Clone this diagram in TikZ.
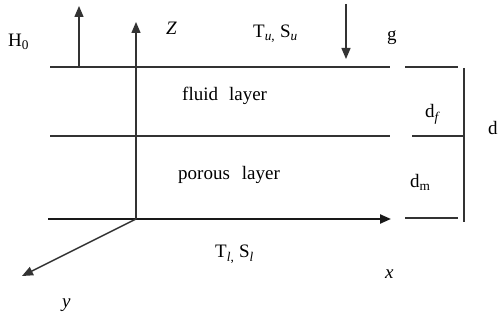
\documentclass[tikz,border=0pt]{standalone}
\usepackage{fontspec}
\setmainfont{Liberation Serif}
\usetikzlibrary{arrows.meta}
\begin{document}
\begin{tikzpicture}[x=1pt,y=-1pt,
  ln/.style={line width=1.4pt, draw=black!80},
  axis/.style={line width=2.2pt, draw=black!90},
  arr/.style={-{Triangle[length=11pt,width=9pt]}},
  lbl/.style={inner sep=0pt, anchor=base west, font=\fontsize{19}{22}\selectfont}]
\useasboundingbox (0,0) rectangle (499,320);
% coordinates
\coordinate (t1) at (50,67); \coordinate (t2) at (390,67);
\coordinate (m1) at (50,136); \coordinate (m2) at (390,136);
\coordinate (o) at (136,219); \coordinate (b1) at (48,219); \coordinate (xt) at (391,219);
\coordinate (zt) at (136,22);
\coordinate (h1) at (79,67); \coordinate (ht) at (79,6);
\coordinate (g1) at (346,4); \coordinate (gt) at (346,59);
\coordinate (yt) at (22,276);
\coordinate (r1a) at (405,67); \coordinate (r1b) at (458,67);
\coordinate (r2a) at (412,136); \coordinate (r2b) at (464,136);
\coordinate (r3a) at (405,218); \coordinate (r3b) at (458,218);
\coordinate (va) at (464,68); \coordinate (vb) at (464,222);
% lines
\draw[ln] (t1) -- (t2);
\draw[ln] (m1) -- (m2);
\draw[axis,arr] (b1) -- (xt);
\draw[ln,arr] (o) -- (zt);
\draw[ln,arr] (h1) -- (ht);
\draw[ln,arr] (g1) -- (gt);
\draw[ln,arr] (o) -- (yt);
\draw[ln] (r1a) -- (r1b);
\draw[ln] (r2a) -- (r2b);
\draw[ln] (r3a) -- (r3b);
\draw[ln] (va) -- (vb);
% labels
\node[lbl] (H0) at (8,47) {H\textsubscript{0}};
\node[lbl] (Z) at (166,35) {\textit{Z}};
\node[lbl] (Tu) at (253,38) {T\textsubscript{\textit{u},} S\textsubscript{\textit{u}}};
\node[lbl] (g) at (387,41) {g};
\node[lbl] (fl) at (182,101) {fluid\hspace{11pt}layer};
\node[lbl] (pl) at (178,180) {porous\hspace{12pt}layer};
\node[lbl] (df) at (425,118) {d\textsubscript{\textit{f}}};
\node[lbl] (d) at (488,135) {d};
\node[lbl] (dm) at (410,188) {d\textsubscript{m}};
\node[lbl] (Tl) at (215,258) {T\textsubscript{\textit{l},} S\textsubscript{\textit{l}}};
\node[lbl] (x) at (385,279) {\textit{x}};
\node[lbl] (y) at (62,308) {\textit{y}};
\end{tikzpicture}
\end{document}
